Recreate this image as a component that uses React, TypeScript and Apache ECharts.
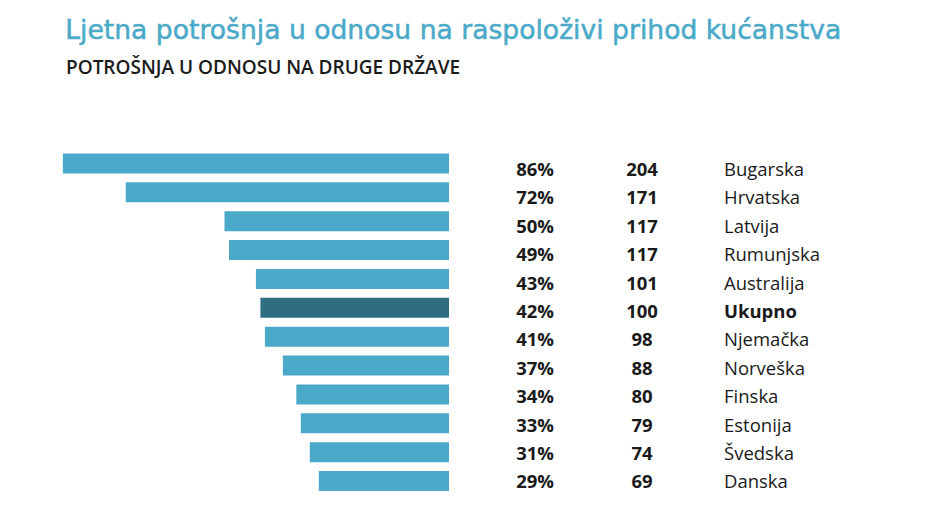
import React, { useEffect, useRef } from "react";
import * as echarts from "echarts";

const countries = ["Bugarska", "Hrvatska", "Latvija", "Rumunjska", "Australija", "Ukupno", "Njemačka", "Norveška", "Finska", "Estonija", "Švedska", "Danska"];
const shares = [86, 72, 50, 49, 43, 42, 41, 37, 34, 33, 31, 29];
const indexValues = [204, 171, 117, 117, 101, 100, 98, 88, 80, 79, 74, 69];
const highlight = "Ukupno";

const TITLE = "Ljetna potrošnja u odnosu na raspoloživi prihod kućanstva";
const SUBTITLE = "POTROŠNJA U ODNOSU NA DRUGE DRŽAVE";

const LIGHT = "#4aa9c9";
const DARK = "#2f6e80";
const FONT = "'Open Sans', sans-serif";
const FS = 18.5;

export default function App() {
  const ref = useRef<HTMLDivElement>(null);
  useEffect(() => {
    if (!ref.current) return;
    const chart = echarts.init(ref.current, undefined, { renderer: "svg" });
    const textAxis = (margin: number, align: string, fmt: (v: string, i: number) => string, rich: any) => ({
      type: "category",
      gridIndex: 1,
      data: countries,
      inverse: true,
      position: "left",
      axisLine: { show: false },
      axisTick: { show: false },
      axisLabel: {
        show: true,
        inside: true,
        margin,
        align,
        formatter: fmt,
        rich,
      },
    });
    chart.setOption({
      animation: false,
      backgroundColor: "#ffffff",
      graphic: [
        {
          type: "text",
          left: 65,
          top: 16,
          style: {
            text: TITLE,
            fill: "#4aa9c8",
            stroke: "#4aa9c8",
            lineWidth: 0.5,
            font: "normal 26.6px 'DejaVu Sans', sans-serif",
          },
        },
        {
          type: "text",
          left: 66,
          top: 57,
          style: { text: SUBTITLE, fill: "#1a1a1a", font: "600 19px " + FONT },
        },
      ],
      grid: [
        { left: 0, right: 491, top: 149, bottom: 30.5, containLabel: false },
        { left: 449, right: 0, top: 154.3, bottom: 30.8, containLabel: false },
      ],
      xAxis: [
        { type: "value", gridIndex: 0, min: 0, max: 100, inverse: true, show: false },
        { type: "value", gridIndex: 1, min: 0, max: 1, show: false },
      ],
      yAxis: [
        {
          type: "category",
          gridIndex: 0,
          data: countries,
          inverse: true,
          show: false,
        },
        textAxis(
          105,
          "right",
          (_v, i) => `{b|${shares[i]}%}`,
          { b: { fontFamily: FONT, fontWeight: 700, fontSize: FS, color: "#1a1a1a" } }
        ),
        textAxis(
          193,
          "center",
          (_v, i) => `{b|${indexValues[i]}}`,
          { b: { fontFamily: FONT, fontWeight: 700, fontSize: FS, color: "#1a1a1a" } }
        ),
        textAxis(
          275,
          "left",
          (v) => (v === highlight ? `{h|${v}}` : `{n|${v}}`),
          {
            n: { fontFamily: FONT, fontWeight: 400, fontSize: FS, color: "#1a1a1a" },
            h: { fontFamily: FONT, fontWeight: 700, fontSize: FS, color: "#1a1a1a" },
          }
        ),
      ],
      series: [
        {
          type: "bar",
          xAxisIndex: 0,
          yAxisIndex: 0,
          barWidth: 20,
          data: shares.map((v, i) => ({
            value: v,
            itemStyle: { color: countries[i] === highlight ? DARK : LIGHT },
          })),
        },
      ],
    });
    return () => chart.dispose();
  }, []);
  return <div ref={ref} style={{ position: "absolute", left: 0, top: 0, width: 940, height: 526 }} />;
}
